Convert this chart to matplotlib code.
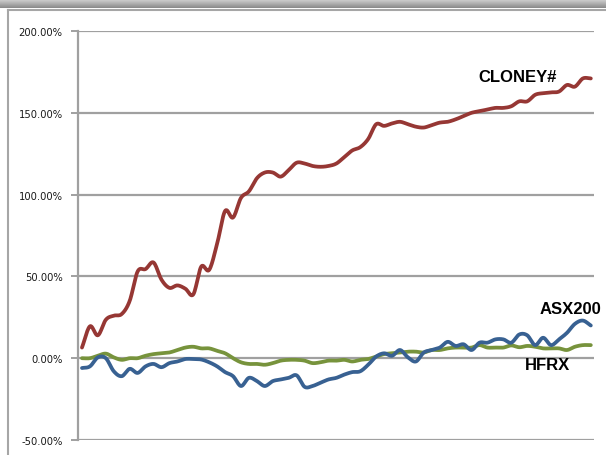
import numpy as np
import matplotlib
matplotlib.use("Agg")
import matplotlib.pyplot as plt
from matplotlib.patches import Rectangle
from matplotlib.lines import Line2D

# ---- data (cumulative returns, %) ----
cloney = [6.5, 19.5, 14, 23.5, 26, 27, 35, 53, 54.5, 58.5,
          48, 43, 44.5, 42.5, 39, 56, 54, 70, 90, 86,
          98, 102, 110, 113.5, 113.5, 111, 115, 119.5, 119, 117.5,
          117, 117.5, 119, 123, 127, 129, 134, 143, 142, 143.5,
          144.5, 143, 141.5, 141, 142.5, 144, 144.5, 146, 148, 150,
          151, 152, 153, 153, 154, 157, 157, 161, 162, 162.5,
          163, 167, 166, 171, 171]
asx200 = [-6, -5, 0.5, 0, -8, -11, -6.5, -9, -5, -3.5,
          -5.5, -3, -2, -0.5, -0.5, -0.8, -2.5, -5, -8.5, -11,
          -17, -12, -14, -17, -14, -13, -12, -10.5, -17.5, -17,
          -15, -13, -12, -10, -8.5, -8, -4, 1, 3, 1.5,
          5, 0.5, -2, 3.5, 5, 6.5, 10, 7.5, 8.5, 5,
          9.5, 9.5, 11.5, 11.5, 9.5, 14.5, 14, 8, 12.5, 8,
          11.5, 15.5, 21, 23, 20]
hfrx = [0, 0, 1.5, 2.8, 0.5, -1, 0, 0, 1.5, 2.5,
        3, 3.5, 5, 6.5, 7, 6, 6, 4.5, 3, 0,
        -2.5, -3.5, -3.5, -4, -3, -1.5, -1, -1, -1.5, -3,
        -2.5, -1.5, -1.5, -1, -2, -1, -0.5, 1, 2.5, 3,
        3.5, 4, 4, 3.5, 5, 5, 6, 6.5, 6.5, 6.5,
        8, 6.5, 6.5, 6.5, 7.8, 6.7, 7.5, 7, 6, 6,
        6, 5, 7, 8, 8]
series_names = ["CLONEY#", "ASX200", "HFRX"]
yticks = [-50, 0, 50, 100, 150, 200]
ytick_labels = ["-50.00%", "0.00%", "50.00%", "100.00%", "150.00%", "200.00%"]

colors = ["#963734", "#386192", "#77933C"]


def smooth(y, n=12):
    """Catmull-Rom spline through points (like Excel smoothed lines)."""
    y = np.asarray(y, float)
    x = np.arange(len(y), dtype=float)
    P = np.vstack([x, y]).T
    P = np.vstack([P[0] - (P[1] - P[0]), P, P[-1] + (P[-1] - P[-2])])
    out = []
    t = np.linspace(0, 1, n, endpoint=False)[:, None]
    for i in range(1, len(P) - 2):
        p0, p1, p2, p3 = P[i - 1], P[i], P[i + 1], P[i + 2]
        seg = 0.5 * ((2 * p1) + (-p0 + p2) * t +
                     (2 * p0 - 5 * p1 + 4 * p2 - p3) * t ** 2 +
                     (-p0 + 3 * p1 - 3 * p2 + p3) * t ** 3)
        out.append(seg)
    out.append(P[-2][None, :])
    S = np.vstack(out)
    return S[:, 0], S[:, 1]


W, H = 606, 456
fig = plt.figure(figsize=(W / 100, H / 100), dpi=100)
fig.patch.set_facecolor("white")

# window chrome / frame
grad = np.linspace(0.82, 0.55, 9)
for i, g in enumerate(grad):
    fig.patches.append(Rectangle((0, 1 - (i + 1) / H), 1, 1 / H,
                                 transform=fig.transFigure,
                                 facecolor=(g, g, g), edgecolor="none"))
fig.lines.append(Line2D([8 / W, 1], [1 - 10.5 / H] * 2, transform=fig.transFigure,
                        color="#A6A6A6", lw=1.5))
fig.lines.append(Line2D([8 / W] * 2, [0, 1 - 10.5 / H], transform=fig.transFigure,
                        color="#A6A6A6", lw=1.5))

ax = fig.add_axes([78 / W, 1 - 441 / H, (594 - 78) / W, (441 - 32) / H])
n = len(cloney)
ax.set_xlim(-0.5, n - 1 + 0.4)
ax.set_ylim(-50, 200)

for vals, c in zip([hfrx, asx200, cloney], [colors[2], colors[1], colors[0]]):
    xs, ys = smooth(vals)
    ax.plot(xs, ys, color=c, lw=2.7, solid_capstyle="round", zorder=3)

ax.set_yticks(yticks)
ax.set_yticklabels(ytick_labels, fontsize=7.2, family="DejaVu Sans", color="#1a1a1a")
ax.yaxis.grid(True, color="#A0A0A0", lw=1.6)
ax.set_axisbelow(True)
ax.set_xticks([])
for s in ["top", "right", "bottom"]:
    ax.spines[s].set_visible(False)
ax.spines["left"].set_color("#A0A0A0")
ax.spines["left"].set_linewidth(1.6)
ax.tick_params(axis="y", length=5, width=1.4, color="#A0A0A0", pad=6)

# series labels
lab_kw = dict(fontsize=12, fontweight="bold", family="Liberation Sans",
              transform=fig.transFigure, va="center", ha="left")
fig.text(478 / W, 1 - 78 / H, series_names[0], **lab_kw)
fig.text(540 / W, 1 - 310 / H, series_names[1], **lab_kw)
fig.text(525 / W, 1 - 366 / H, series_names[2], **lab_kw)

fig.savefig("out.png", dpi=100)
